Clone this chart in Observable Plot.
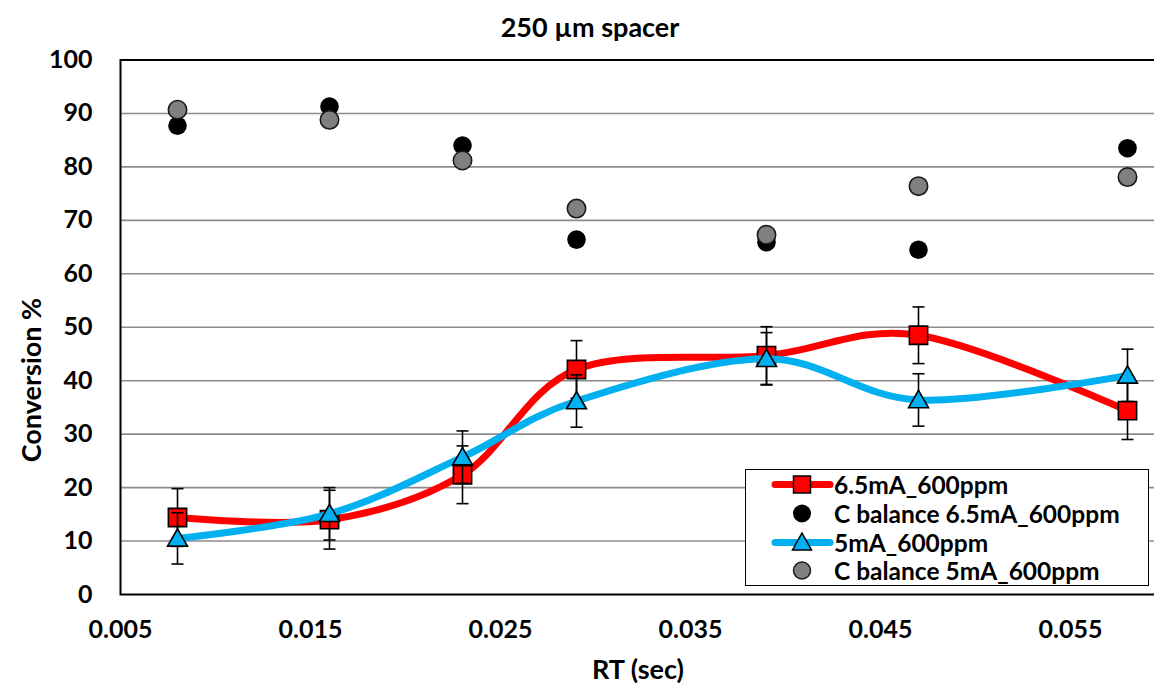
<!DOCTYPE html>
<html>
<head>
<meta charset="utf-8">
<script src="https://cdn.jsdelivr.net/npm/d3@7"></script>
<script src="https://cdn.jsdelivr.net/npm/@observablehq/plot@0.6"></script>
<style>
  html, body { margin: 0; padding: 0; overflow: hidden; background: white; }
  body { width: 1154px; height: 686px; position: relative; font-family: Lato, "Open Sans", sans-serif; font-weight: bold; color: black; }
  #title { box-sizing: border-box; height: 41px; padding-top: 7px; line-height: 40px; width: 1180px; text-align: center; font-size: 27px; overflow: visible; white-space: nowrap; }
  .axis-title { position: absolute; font-size: 27px; white-space: nowrap; transform: translate(-50%, -50%); }
  #ytitle { left: 30px; top: 380px; transform: translate(-50%, -50%) rotate(-90deg); }
  #xtitle { left: 638px; top: 668px; }
  #legend { position: absolute; left: 745px; top: 469px; width: 402px; height: 115px; border: 1.5px solid black; background: white; font-size: 24.5px; }
  .lrow { position: absolute; left: 0; height: 29px; display: flex; align-items: center; }
  .lrow svg { width: 88px; height: 29px; flex: none; }
</style>
</head>
<body>
<div id="title">250 µm spacer</div>
<div id="chart"></div>
<div class="axis-title" id="ytitle">Conversion %</div>
<div class="axis-title" id="xtitle">RT (sec)</div>
<div id="legend"></div>
<script>
// ---- data ----
const rtSec = [0.008, 0.016, 0.023, 0.029, 0.039, 0.047, 0.058];
const conv65 = [14.4, 14.0, 22.4, 42.1, 44.7, 48.5, 34.4];
const err65 = [5.4, 5.5, 5.4, 5.4, 5.4, 5.3, 5.4];
const conv5 = [10.5, 15.1, 25.7, 36.2, 44.1, 36.4, 41.0];
const err5 = [4.8, 4.9, 4.9, 4.9, 4.9, 4.9, 4.9];
const cbal65 = [87.7, 91.3, 84.0, 66.4, 65.9, 64.5, 83.5];
const cbal5 = [90.7, 88.8, 81.2, 72.2, 67.3, 76.4, 78.1];
const xTicks = [0.005, 0.015, 0.025, 0.035, 0.045, 0.055];
const yTicks = [0, 10, 20, 30, 40, 50, 60, 70, 80, 90, 100];
const seriesNames = ["6.5mA_600ppm", "C balance 6.5mA_600ppm", "5mA_600ppm", "C balance 5mA_600ppm"];

const RED = "#FF0000", BLUE = "#00B0F0", GRAY = "#808080";

const rows = rtSec.map((x, i) => ({
  x, c65: conv65[i], e65: err65[i], c5: conv5[i], e5: err5[i], b65: cbal65[i], b5: cbal5[i]
}));

// horizontal cap symbol for error bars
const capSymbol = { draw(ctx) { ctx.moveTo(-6, 0); ctx.lineTo(6, 0); } };

const errMarks = (val, err) => [
  Plot.ruleX(rows, { x: "x", y1: d => d[val] - d[err], y2: d => d[val] + d[err], stroke: "black", strokeWidth: 1.6 }),
  Plot.dot(rows, { x: "x", y: d => d[val] + d[err], symbol: capSymbol, stroke: "black", strokeWidth: 1.6, fill: "none" }),
  Plot.dot(rows, { x: "x", y: d => d[val] - d[err], symbol: capSymbol, stroke: "black", strokeWidth: 1.6, fill: "none" })
];

const chart = Plot.plot({
  width: 1154,
  height: 645,
  marginLeft: 120,
  marginRight: -11,
  marginTop: 18.5,
  marginBottom: 92,
  style: { fontFamily: "Lato, 'Open Sans', sans-serif", fontSize: "24px", fontWeight: "bold", color: "black", background: "white" },
  x: { domain: [0.005, 0.06] },
  y: { domain: [0, 100] },
  marks: [
    Plot.ruleY(yTicks.filter(v => v > 0 && v < 100), { stroke: "#8c8c8c", strokeWidth: 1.6 }),
    Plot.axisX({ ticks: xTicks, tickFormat: d3.format(".3f"), tickSize: 0, tickPadding: 26, label: null, fontSize: 25 }),
    Plot.axisY({ ticks: yTicks, tickSize: 0, tickPadding: 28, label: null, fontSize: 25 }),
    Plot.frame({ stroke: "black", strokeWidth: 2 }),
    // 6.5 mA series
    Plot.line(rows, { x: "x", y: "c65", stroke: RED, strokeWidth: 7, curve: "cardinal", strokeLinecap: "round" }),
    ...errMarks("c65", "e65"),
    Plot.dot(rows, { x: "x", y: "c65", symbol: "square", r: 10.3, fill: RED, stroke: "black", strokeWidth: 1.6 }),
    Plot.dot(rows, { x: "x", y: "b65", r: 9.3, fill: "black", stroke: "none" }),
    // 5 mA series
    Plot.line(rows, { x: "x", y: "c5", stroke: BLUE, strokeWidth: 7, curve: "cardinal", strokeLinecap: "round" }),
    ...errMarks("c5", "e5"),
    Plot.dot(rows, { x: "x", y: "c5", symbol: "triangle", r: 7.4, dy: 2, fill: BLUE, stroke: "black", strokeWidth: 1.6 }),
    Plot.dot(rows, { x: "x", y: "b5", r: 9.2, fill: GRAY, stroke: "#1a1a1a", strokeWidth: 1.6 })
  ]
});
document.getElementById("chart").appendChild(chart);

// ---- legend ----
const legend = document.getElementById("legend");
const swatches = [
  `<line x1="29" y1="14.5" x2="84" y2="14.5" stroke="${RED}" stroke-width="7" stroke-linecap="round"/><rect x="47.5" y="6" width="17" height="17" fill="${RED}" stroke="black" stroke-width="1.5"/>`,
  `<circle cx="56" cy="14.5" r="9" fill="black"/>`,
  `<line x1="29" y1="14.5" x2="84" y2="14.5" stroke="${BLUE}" stroke-width="7" stroke-linecap="round"/><path d="M56,5 L65.5,22 L46.5,22 Z" fill="${BLUE}" stroke="black" stroke-width="1.5"/>`,
  `<circle cx="56" cy="14.5" r="8.5" fill="${GRAY}" stroke="#1a1a1a" stroke-width="1.5"/>`
];
const rowTops = [0, 29, 58, 86];
seriesNames.forEach((name, i) => {
  const row = document.createElement("div");
  row.className = "lrow";
  row.style.top = rowTops[i] + "px";
  row.innerHTML = `<svg viewBox="0 0 88 29">${swatches[i]}</svg><span>${name}</span>`;
  legend.appendChild(row);
});
</script>
</body>
</html>
